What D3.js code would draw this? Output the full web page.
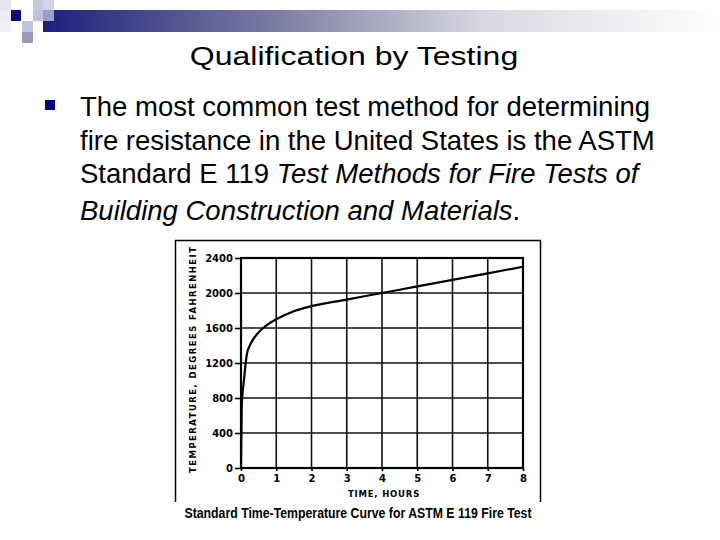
<!DOCTYPE html>
<html><head><meta charset="utf-8">
<script src="https://cdn.jsdelivr.net/npm/d3@7"></script>
<style>body{margin:0;background:#fff}svg{display:block}</style>
</head><body>
<script>
// Data: ASTM E 119 standard time-temperature curve
const hours = [0, 0.02, 0.083, 0.167, 0.25, 0.333, 0.5, 0.75, 1, 1.5, 2, 3, 4, 5, 6, 7, 8];
const tempF = [0, 700, 1000, 1300, 1400, 1462, 1550, 1638, 1700, 1792, 1850, 1925, 2000, 2075, 2150, 2225, 2300];
const xTicks = [0, 1, 2, 3, 4, 5, 6, 7, 8];
const yTicks = [0, 400, 800, 1200, 1600, 2000, 2400];
const titleText = "Qualification by Testing";
const captionText = "Standard Time-Temperature Curve for ASTM E 119 Fire Test";
const xTitle = "TIME, HOURS";
const yTitle = "TEMPERATURE, DEGREES FAHRENHEIT";

const W = 720, H = 540;
const svg = d3.select("body").append("svg").attr("width", W).attr("height", H);

// header decoration
const defs = svg.append("defs");
const g1 = defs.append("linearGradient").attr("id", "hdr").attr("x1", "0").attr("x2", "1");
g1.append("stop").attr("offset", "0").attr("stop-color", "#1f1f7a");
g1.append("stop").attr("offset", "0.35").attr("stop-color", "#7d7ea3");
g1.append("stop").attr("offset", "0.65").attr("stop-color", "#d8d8e2");
g1.append("stop").attr("offset", "1").attr("stop-color", "#ffffff");
svg.append("rect").attr("x", 43).attr("y", 10).attr("width", 677).attr("height", 22).attr("fill", "url(#hdr)");
const squares = [
  [0, 0, "#e4e4f0"], [33, 0, "#c8c8e0"], [43, 0, "#d4d4e8"],
  [10, 10, "#0a0a78"], [0, 10, "#ececf4"], [33, 10, "#c0c0dc"], [43, 10, "#9c9cc8"],
  [22, 21, "#c4c4de"], [22, 32, "#9898c4"], [0, 21, "#f0f0f6"]
];
svg.selectAll("rect.sq").data(squares).join("rect").attr("class", "sq")
  .attr("x", d => d[0]).attr("y", d => d[1]).attr("width", 11).attr("height", 11).attr("fill", d => d[2]);

// title (horizontally stretched as in the slide)
svg.append("text").attr("transform", "translate(354,65) scale(1.25,1)").attr("text-anchor", "middle")
  .attr("font-family", "Liberation Sans, Arial, sans-serif").attr("font-size", 25.6).attr("fill", "#000")
  .text(titleText);

// bullet
svg.append("rect").attr("x", 45).attr("y", 100).attr("width", 10).attr("height", 10).attr("fill", "#000080");
const body = svg.append("g").attr("font-family", "Liberation Sans, Arial, sans-serif").attr("font-size", 27.5).attr("fill", "#000");
body.append("text").attr("x", 80).attr("y", 116).text("The most common test method for determining");
body.append("text").attr("x", 80).attr("y", 149.5).text("fire resistance in the United States is the ASTM");
const l3 = body.append("text").attr("x", 80).attr("y", 183);
l3.append("tspan").text("Standard E 119 ");
l3.append("tspan").attr("font-style", "italic").text("Test Methods for Fire Tests of");
const l4 = body.append("text").attr("x", 80).attr("y", 220);
l4.append("tspan").attr("font-style", "italic").text("Building Construction and Materials");
l4.append("tspan").text(".");

// chart image frame
svg.append("path").attr("d", "M175.5,502V240.5H540.5V502").attr("fill", "none").attr("stroke", "#000").attr("stroke-width", 1.5);

const x = d3.scaleLinear().domain([0, 8]).range([241, 523]);
const y = d3.scaleLinear().domain([0, 2400]).range([468, 258]);

const grid = svg.append("g");
grid.selectAll("line.v").data(xTicks).join("line").attr("class", "v")
  .attr("x1", d => x(d)).attr("x2", d => x(d)).attr("y1", y(0)).attr("y2", y(2400))
  .attr("stroke", "#111").attr("stroke-width", 1.6);
grid.selectAll("line.h").data(yTicks).join("line").attr("class", "h")
  .attr("x1", x(0)).attr("x2", x(8)).attr("y1", d => y(d)).attr("y2", d => y(d))
  .attr("stroke", "#111").attr("stroke-width", 1.6);
svg.append("rect").attr("x", x(0)).attr("y", y(2400)).attr("width", x(8) - x(0)).attr("height", y(0) - y(2400))
  .attr("fill", "none").attr("stroke", "#000").attr("stroke-width", 2.2);

const yAxis = svg.append("g").attr("transform", `translate(${x(0)},0)`)
  .call(d3.axisLeft(y).tickValues(yTicks).tickSize(6).tickPadding(2).tickFormat(d3.format("d")));
const xAxis = svg.append("g").attr("transform", `translate(0,${y(0)})`)
  .call(d3.axisBottom(x).tickValues(xTicks).tickSize(3).tickPadding(4).tickFormat(d3.format("d")));
[xAxis, yAxis].forEach(a => {
  a.select(".domain").remove();
  a.selectAll(".tick line").attr("stroke", "#000").attr("stroke-width", 1.6);
  a.selectAll(".tick text").attr("font-family", "DejaVu Sans, sans-serif").attr("font-weight", "bold")
    .attr("font-size", 10).attr("fill", "#000");
});

// curve
const pts = hours.map((h, i) => [h, tempF[i]]);
svg.append("path").datum(pts).attr("fill", "none").attr("stroke", "#000").attr("stroke-width", 2.2)
  .attr("d", d3.line().x(d => x(d[0])).y(d => y(d[1])).curve(d3.curveMonotoneX));

// axis titles
svg.append("text").attr("x", 384).attr("y", 497).attr("text-anchor", "middle")
  .attr("font-family", "DejaVu Sans, sans-serif").attr("font-weight", "bold").attr("font-size", 8.5)
  .attr("letter-spacing", 0.8).text(xTitle);
svg.append("text").attr("transform", "translate(196,360) rotate(-90)").attr("text-anchor", "middle")
  .attr("font-family", "DejaVu Sans, sans-serif").attr("font-weight", "bold").attr("font-size", 8.5)
  .attr("textLength", 226).attr("lengthAdjust", "spacing").text(yTitle);

// caption
svg.append("text").attr("x", 358).attr("y", 518).attr("text-anchor", "middle")
  .attr("font-family", "Liberation Sans, Arial, sans-serif").attr("font-weight", "bold").attr("font-size", 14)
  .attr("textLength", 347).attr("lengthAdjust", "spacingAndGlyphs").text(captionText);
</script>
</body></html>
